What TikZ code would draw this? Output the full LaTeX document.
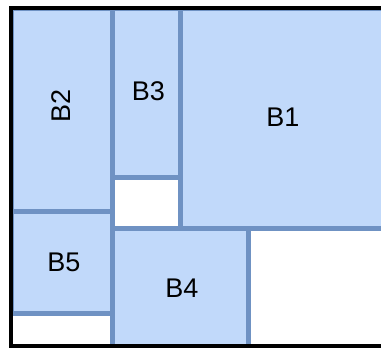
\documentclass[tikz,border=0pt]{standalone}
\usepackage{fontspec}
\setmainfont{Liberation Sans}
\definecolor{boxfill}{RGB}{193,217,250}
\definecolor{boxline}{RGB}{111,146,195}
\tikzset{
  blk/.style={fill=boxfill, draw=boxline, line width=5pt},
  lbl/.style={font=\fontsize{27}{27}\selectfont, inner sep=0pt, text=black},
  frame/.style={draw=black, line width=4.5pt}
}
\begin{document}
\begin{tikzpicture}[x=1pt,y=-1pt]
\useasboundingbox (0,0) rectangle (381,348);
\clip (0,0) rectangle (381,348);
\fill[white] (0,0) rectangle (381,348);
% boxes
\draw[blk] (180.5,8) rectangle (395,228.5);
\draw[blk] (11,8) rectangle (112.5,211);
\draw[blk] (112.5,8) rectangle (180.5,177.5);
\draw[blk] (11,211) rectangle (112.5,313.5);
\draw[blk] (112.5,228.5) rectangle (248.5,352);
% labels
\node[lbl] (b1) at (283,117) {B1};
\node[lbl, rotate=90] (b2) at (61.5,106) {B2};
\node[lbl] (b3) at (148.5,91) {B3};
\node[lbl] (b4) at (182,288) {B4};
\node[lbl] (b5) at (64,262) {B5};
% outer frame
\draw[frame] (395,8) -- (11,8) -- (11,346) -- (395,346);
\end{tikzpicture}
\end{document}
